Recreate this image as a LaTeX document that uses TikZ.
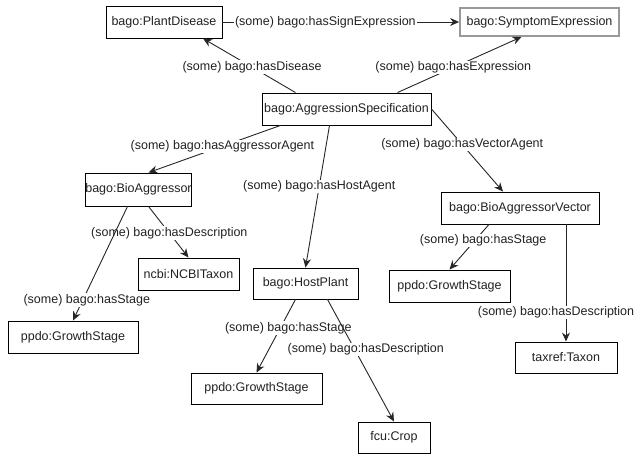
\documentclass[tikz,border=0pt]{standalone}
\usepackage{fontspec}
\setmainfont{Liberation Sans}
\usetikzlibrary{arrows.meta}
\definecolor{txt}{HTML}{222222}
\begin{document}
\begin{tikzpicture}[x=1pt,y=-1pt,
  box/.style={draw=black,line width=0.9pt,inner sep=0pt,text=txt,font=\fontsize{12.5}{14}\selectfont},
  gbox/.style={box,draw=gray!80,line width=1.8pt},
  rel/.style={line width=0.9pt,draw=black!85,-{Stealth[length=9pt,width=8pt]}},
  lbl/.style={fill=white,inner sep=0.8pt,text=txt,font=\fontsize{12.5}{14}\selectfont}]
\useasboundingbox (0,0) rectangle (637,454);
\node[box,minimum width=116pt,minimum height=32pt] (pd) at (164,22) {bago:PlantDisease};
\node[gbox,minimum width=159pt,minimum height=28pt] (se) at (539.5,22) {bago:SymptomExpression};
\node[box,minimum width=169pt,minimum height=32pt] (aggr) at (346.5,109) {bago:AggressionSpecification};
\node[box,minimum width=105pt,minimum height=33pt] (bio) at (138.5,189.5) {bago:BioAggressor};
\node[box,minimum width=101pt,minimum height=32pt] (ncbi) at (188.5,274) {ncbi:NCBITaxon};
\node[box,minimum width=130pt,minimum height=32pt] (gsl) at (73,337) {ppdo:GrowthStage};
\node[box,minimum width=105pt,minimum height=31pt] (host) at (305.5,283.5) {bago:HostPlant};
\node[box,minimum width=158pt,minimum height=32pt] (vec) at (520,208) {bago:BioAggressorVector};
\node[box,minimum width=121pt,minimum height=32pt] (gsr) at (449.5,286) {ppdo:GrowthStage};
\node[box,minimum width=131pt,minimum height=31pt] (gsm) at (256.5,388.5) {ppdo:GrowthStage};
\node[box,minimum width=72pt,minimum height=31pt] (crop) at (394,437.5) {fcu:Crop};
\node[box,minimum width=102pt,minimum height=31pt] (tax) at (566,357.5) {taxref:Taxon};

\draw[rel] (pd.east) -- node[lbl,pos=0.435] {(some) bago:hasSignExpression} (se.west);
\draw[rel] ([xshift=-51pt]aggr.north) -- node[lbl,pos=0.47] {(some) bago:hasDisease} ([xshift=39pt]pd.south);
\draw[rel] ([xshift=51pt]aggr.north) -- node[lbl,pos=0.45] {(some) bago:hasExpression} ([xshift=-18pt]se.south);
\draw[rel] ([xshift=-66pt]aggr.south) -- node[lbl,pos=0.44] {(some) bago:hasAggressorAgent} ([xshift=10pt]bio.north);
\draw[rel] ([xshift=-17pt]aggr.south) -- node[lbl,pos=0.43] {(some) bago:hasHostAgent} (host.north);
\draw[rel] (aggr.east) -- node[lbl,pos=0.43] {(some) bago:hasVectorAgent} ([xshift=-17pt]vec.north);
\draw[rel] ([xshift=10pt]bio.south) -- node[lbl,pos=0.52] {(some) bago:hasDescription} (ncbi.north);
\draw[rel] ([xshift=-11pt]bio.south) -- node[lbl,pos=0.82,xshift=4pt] {(some) bago:hasStage} (gsl.north);
\draw[rel] ([xshift=-31pt]vec.south) -- node[lbl,pos=0.35,xshift=8pt] {(some) bago:hasStage} (gsr.north);
\draw[rel] (tax.north |- vec.south) -- node[lbl,pos=0.75,xshift=-10pt] {(some) bago:hasDescription} (tax.north);
\draw[rel] ([xshift=-10pt]host.south) -- node[lbl,pos=0.39,xshift=8pt] {(some) bago:hasStage} (gsm.north);
\draw[rel] ([xshift=22pt]host.south) -- node[lbl,pos=0.41,xshift=11pt] {(some) bago:hasDescription} (crop.north);
\end{tikzpicture}
\end{document}
